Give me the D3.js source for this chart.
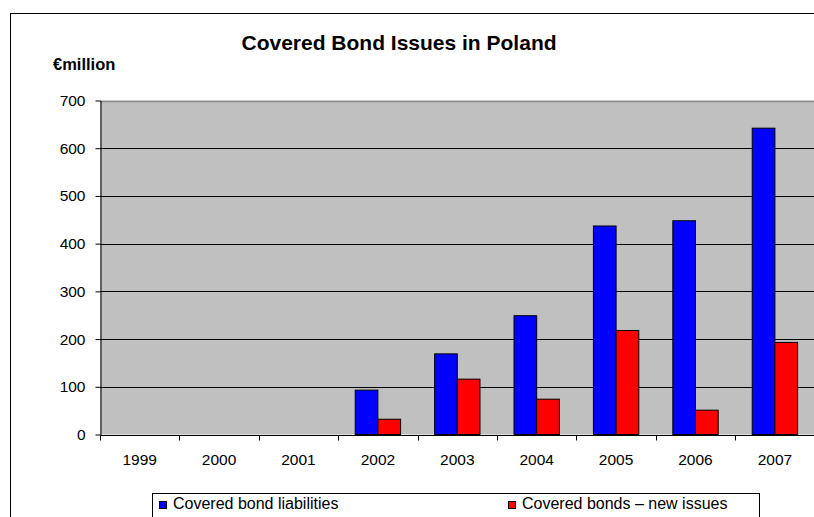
<!DOCTYPE html>
<html><head><meta charset="utf-8">
<script src="https://cdn.jsdelivr.net/npm/d3@7"></script>
<style>
html,body{margin:0;padding:0;background:#fff;}
svg{display:block;font-family:Arial,"Liberation Sans",sans-serif;}
</style></head>
<body><svg id="c" width="814" height="517"></svg>
<script>
const years = ["1999","2000","2001","2002","2003","2004","2005","2006","2007"];
const liabilities = [null,null,null,93,169,249,437,448,642];
const newIssues = [null,null,null,32,116,74,218,51,193];
const seriesNames = ["Covered bond liabilities","Covered bonds \u2013 new issues"];
const seriesColors = ["#0000FF","#FF0000"];
const yTicks = [0,100,200,300,400,500,600,700];

const svg = d3.select("#c");
const L = 100, R = 814.6, T = 100.5, B = 434.5;

// outer frame
svg.append("rect").attr("x",10.5).attr("y",13.5).attr("width",900).attr("height",600)
  .attr("fill","#fff").attr("stroke","#000").attr("stroke-width",1);

// title
svg.append("text").attr("x",399).attr("y",50).attr("text-anchor","middle")
  .attr("font-weight","bold").attr("font-size","21px").text("Covered Bond Issues in Poland");
svg.append("text").attr("x",53).attr("y",70).attr("font-weight","bold")
  .attr("font-size","16.5px").text("\u20ACmillion");

const y = d3.scaleLinear().domain([0,700]).range([B,T]);
const x0 = d3.scaleBand().domain(years).range([L,R]).padding(0);
const x1 = d3.scaleBand().domain([0,1]).range([0,x0.bandwidth()]).paddingInner(0).paddingOuter(0.75);

// plot background
svg.append("rect").attr("x",L).attr("y",T).attr("width",R-L).attr("height",B-T).attr("fill","#C0C0C0");

// gridlines
svg.append("g").selectAll("line").data(yTicks.filter(d=>d>0 && d<700)).join("line")
  .attr("x1",L).attr("x2",R).attr("y1",d=>Math.round(y(d))+0.5).attr("y2",d=>Math.round(y(d))+0.5)
  .attr("stroke","#000").attr("stroke-width",1);
svg.append("line").attr("x1",L).attr("x2",R).attr("y1",Math.round(T)+0.5).attr("y2",Math.round(T)+0.5)
  .attr("stroke","#8a8a8a").attr("stroke-width",1.5);

// bars
const data = years.map((yr,i)=>({yr, vals:[liabilities[i], newIssues[i]]}));
const g = svg.append("g").selectAll("g").data(data).join("g")
  .attr("transform",d=>`translate(${x0(d.yr)},0)`);
g.selectAll("rect").data(d=>d.vals.map((v,k)=>({v,k})).filter(e=>e.v!=null)).join("rect")
  .attr("x",e=>x1(e.k)).attr("width",x1.bandwidth())
  .attr("y",e=>y(e.v)).attr("height",e=>B-y(e.v))
  .attr("fill",e=>seriesColors[e.k]).attr("stroke","#000").attr("stroke-width",1);

// y axis
const ya = svg.append("g").attr("transform",`translate(${L+0.5},0)`)
  .call(d3.axisLeft(y).tickValues(yTicks).tickSize(5).tickPadding(10).tickSizeOuter(0));
ya.select(".domain").attr("stroke","#000");
ya.selectAll("text").attr("font-size","15.5px").attr("font-family","Arial,'Liberation Sans',sans-serif").attr("fill","#000");

// x axis
const xa = svg.append("g").attr("transform",`translate(0,${Math.round(B)+0.5})`);
xa.append("line").attr("x1",L).attr("x2",R).attr("stroke","#000");
xa.selectAll("line.tk").data(d3.range(years.length+1)).join("line").attr("class","tk")
  .attr("x1",i=>Math.round(L+i*x0.step())+0.5).attr("x2",i=>Math.round(L+i*x0.step())+0.5)
  .attr("y1",0).attr("y2",5).attr("stroke","#000");
xa.selectAll("text").data(years).join("text")
  .attr("x",d=>x0(d)+x0.bandwidth()/2).attr("y",29).attr("text-anchor","middle")
  .attr("font-size","15.5px").text(d=>d);

// legend
const lg = svg.append("g");
lg.append("rect").attr("x",152.5).attr("y",493.5).attr("width",607).attr("height",60)
  .attr("fill","#fff").attr("stroke","#000");
const legX = [159, 508];
seriesNames.forEach((n,k)=>{
  lg.append("rect").attr("x",legX[k]+0.5).attr("y",501.5).attr("width",7).attr("height",7)
    .attr("fill",seriesColors[k]).attr("stroke","#000");
  lg.append("text").attr("x",legX[k]+14).attr("y",509).attr("font-size","16px").text(n);
});
</script></body></html>
